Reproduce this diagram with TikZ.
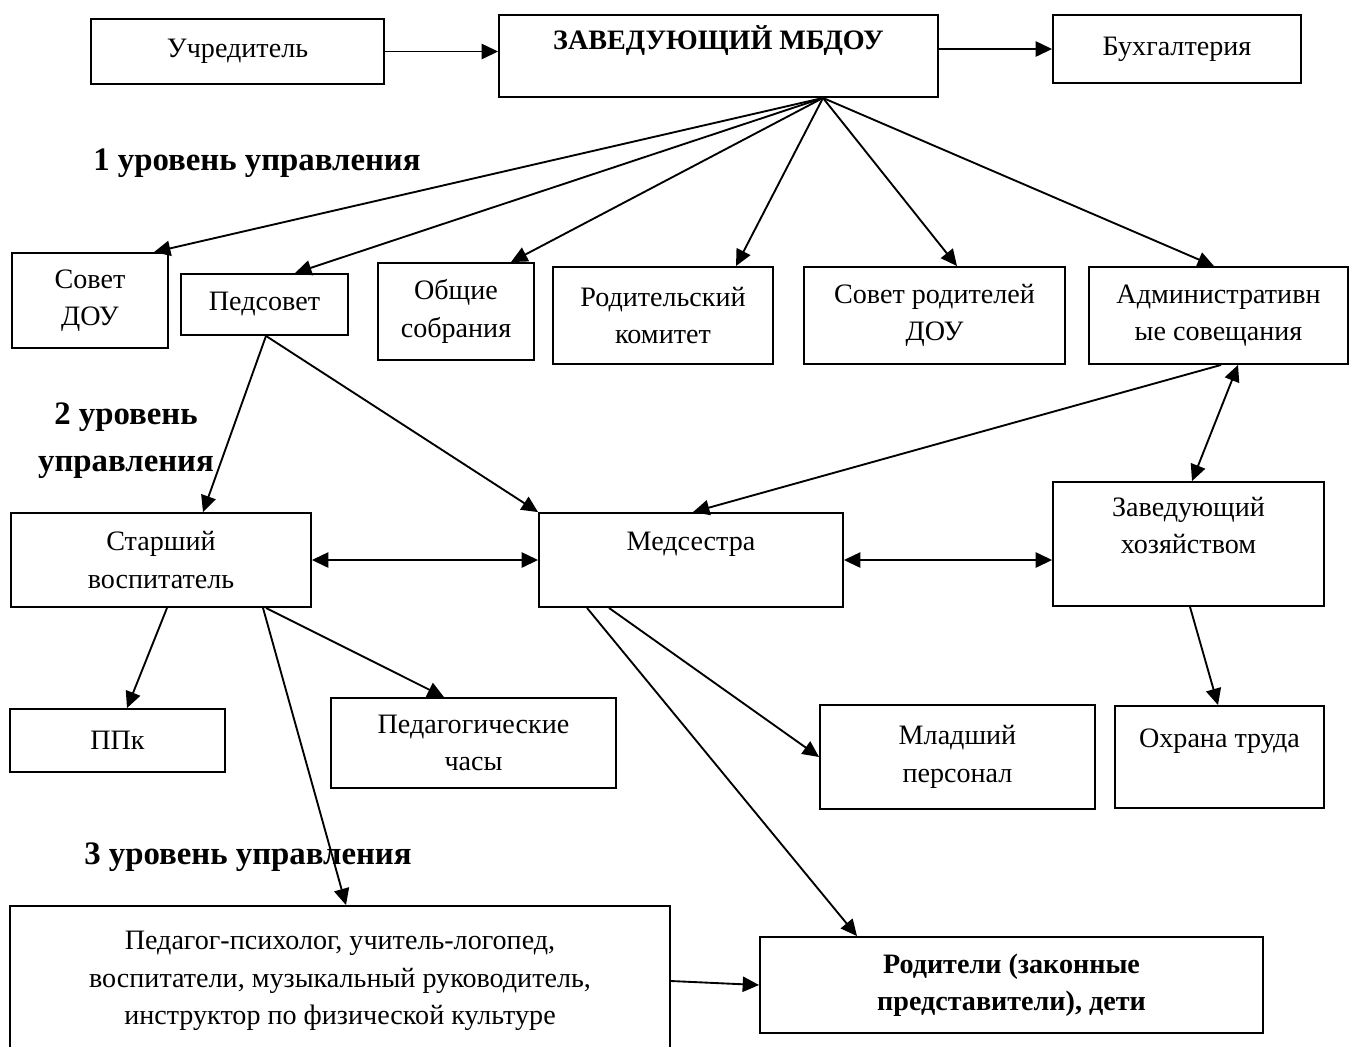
\documentclass[tikz,border=0pt]{standalone}
\usepackage{fontspec}
\setmainfont{Liberation Serif}
\usetikzlibrary{arrows.meta}

\tikzset{
  unit/.style={draw, line width=0.8pt, inner sep=0pt, align=center,
    font=\fontsize{12}{16}\selectfont},
  level/.style={align=center, font=\fontsize{14}{18}\selectfont\bfseries},
  link/.style={->, line width=0.8pt},
  dlink/.style={<->, line width=0.8pt}
}
% box from corner (#2,#3) to corner (#4,#5), pixel grid of 0.015cm
\newcommand{\orgbox}[6]
{\node [unit, minimum width={(#4-#2)*0.015cm}, minimum height={(#5-#3)*0.015cm}]
  (#1) at ({(#2+#4)/2},{(#3+#5)/2}) {#6};}

\begin{document}
\begin{tikzpicture}[x=0.015cm, y=-0.015cm, >={Triangle[length=7pt,width=6.5pt]}]
\useasboundingbox (0,0) rectangle (1350,1046);
% top row
\orgbox{uchr}{91}{19}{384}{84}{Учредитель}
\orgbox{zav}{499}{15}{938}{97}{\textbf{ЗАВЕДУЮЩИЙ МБДОУ}\\ \mbox{}}
\orgbox{buh}{1053}{15}{1301}{83}{Бухгалтерия}
% 1 level
\orgbox{sovdou}{12}{253}{168}{348}{Совет\\ДОУ}
\orgbox{pedsov}{181}{274}{348}{335}{Педсовет}
\orgbox{obsch}{378}{263}{534}{360}{Общие\\собрания}
\orgbox{rodkom}{553}{267}{773}{364}{Родительский\\комитет}
\orgbox{sovrod}{804}{267}{1065}{364}{Совет родителей\\ДОУ}
\orgbox{adm}{1089}{267}{1348}{364}{Административн\\ые совещания}
% 2 level
\orgbox{starsh}{11}{513}{311}{607}{Старший\\воспитатель}
\orgbox{med}{539}{513}{843}{607}{Медсестра\\ \mbox{}}
\orgbox{zavhoz}{1053}{482}{1324}{606}{Заведующий\\хозяйством\\ \mbox{}}
\orgbox{ppk}{10}{709}{225}{772}{ППк}
\orgbox{pedchas}{331}{698}{616}{788}{Педагогические\\часы}
\orgbox{mlad}{820}{705}{1095}{809}{Младший\\персонал}
\orgbox{ohrana}{1115}{706}{1324}{808}{Охрана труда\\ \mbox{}}
% 3 level
\orgbox{pedagog}{10}{906}{670}{1056}{Педагог-психолог, учитель-логопед,\\воспитатели, музыкальный руководитель,\\инструктор по физической культуре}
\orgbox{rodit}{760}{937}{1263}{1033}{\textbf{Родители (законные}\\\textbf{представители), дети}}

\node[level] (lev1) at (257,163) {1 уровень управления};
\node[level] (lev2) at (126,441) {2 уровень\\[2pt]управления};
\node[level] (lev3) at (248,857) {3 уровень управления};

\draw[link] (uchr.east) -- (uchr.east -| zav.west);
\draw[link] (buh.west -| zav.east) -- (buh.west);
\coordinate (hub) at (823,0 |- zav.south);
\foreach \t/\x in {sovdou/154, pedsov/295, obsch/511, rodkom/736, sovrod/957, adm/1214}
  \draw[link] (hub) -- (\x,0 |- \t.north);

\draw[link] (266,0 |- pedsov.south) -- (203,0 |- starsh.north);
\draw[link] (266,0 |- pedsov.south) -- (med.north west);
\draw[link] (1221,0 |- adm.south) -- (693,0 |- med.north);
\draw[dlink] (1238,0 |- adm.south) -- (1192,0 |- zavhoz.north);
\draw[dlink] (starsh.east) -- (med.west);
\draw[dlink] (med.east) -- (med.east -| zavhoz.west);
\draw[link] (167,0 |- starsh.south) -- (127,0 |- ppk.north);
\draw[link] (266,0 |- starsh.south) -- (444,0 |- pedchas.north);
\draw[link] (263,0 |- starsh.south) -- (346,0 |- pedagog.north);
\draw[link] (587,0 |- med.south) -- (857,0 |- rodit.north);
\draw[link] (609,0 |- med.south) -- (mlad.west);
\draw[link] (1190,0 |- zavhoz.south) -- (1218,0 |- ohrana.north);
\draw[link] (pedagog.east) -- (rodit.west);
\end{tikzpicture}
\end{document}
